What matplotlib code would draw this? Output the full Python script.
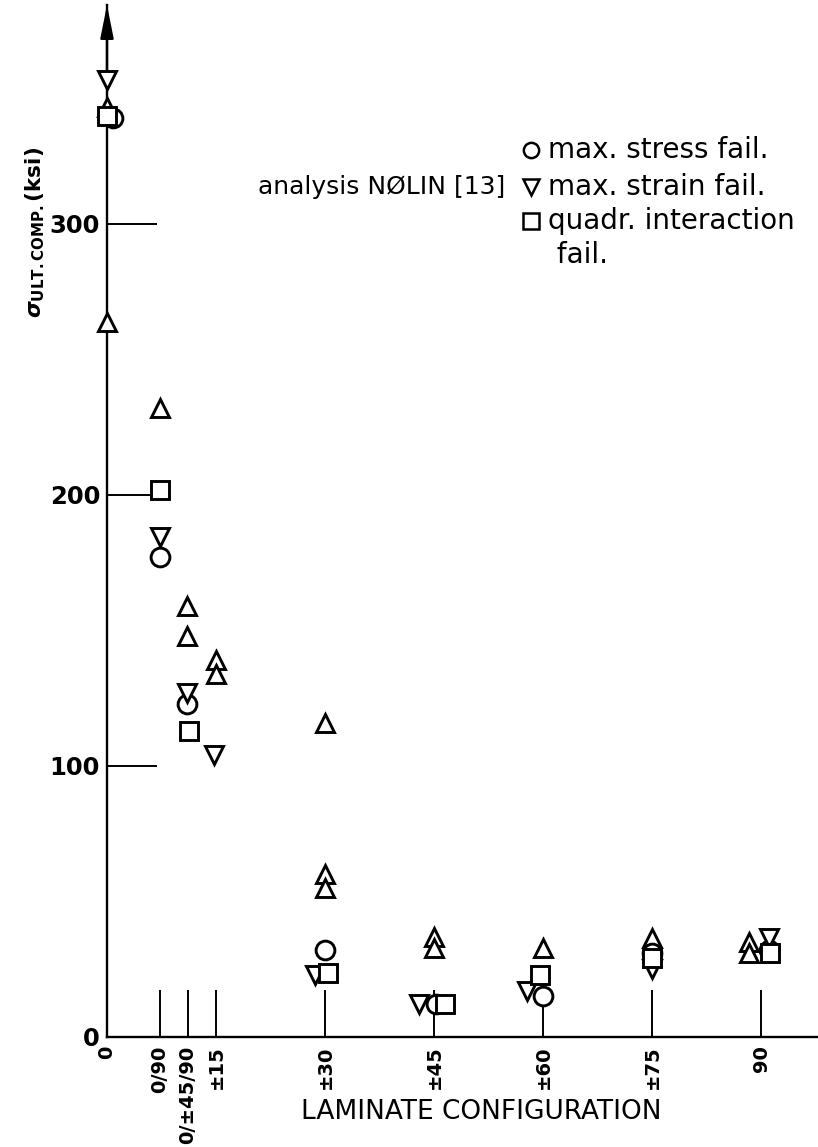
import matplotlib
matplotlib.use('Agg')
import matplotlib.pyplot as plt
from matplotlib.lines import Line2D

plt.rcParams['mathtext.fontset'] = 'dejavusans'

# laminate configurations along the bottom axis (ply angle, degrees)
config_labels = ['0', '0/90', '0/±45/90', '±15', '±30', '±45', '±60', '±75', '90']
config_pos = [0, 7.3, 11.1, 15, 30, 45, 60, 75, 90]

# measured ultimate compressive strength (ksi)
test_x = [0, 0, 7.3, 11.0, 11.0, 15, 15, 30, 30, 30, 45, 45, 60, 75, 88.3, 88.3]
test_y = [343, 264, 232, 159, 148, 139, 134, 116, 60, 55, 37, 33, 33, 36.5, 35, 31]

# NOLIN analysis: max. stress failure
stress_x = [0.8, 7.3, 11.0, 30, 45.2, 60, 75, 91]
stress_y = [339, 177, 123, 32, 12, 15, 31, 32]

# NOLIN analysis: max. strain failure
strain_x = [0, 7.3, 11.0, 14.7, 28.6, 42.9, 57.8, 75, 91]
strain_y = [353, 184.5, 127, 104, 23, 12, 17, 25, 36.5]

# NOLIN analysis: quadratic interaction failure
quad_x = [0, 7.3, 11.3, 30.4, 46.5, 59.6, 75, 91.2]
quad_y = [340, 202, 113, 23.6, 12, 23, 29, 31]

y_ticks = [0, 100, 200, 300]
legend_markers = ['o', 'v', 's']
legend_labels = ['max. stress fail.', 'max. strain fail.', 'quadr. interaction\n fail.']

W, H = 818, 1147
fig = plt.figure(figsize=(W / 100, H / 100), dpi=100)
ax = fig.add_axes([107 / W, 110 / H, 711 / W, 1032 / H])
ax.set_xlim(0, 97.8)
ax.set_ylim(0, 380.8)

for side in ('top', 'right'):
    ax.spines[side].set_visible(False)
for side in ('left', 'bottom'):
    ax.spines[side].set_linewidth(1.7)

# arrow head on the strength axis
ax.annotate('', xy=(0, 1), xytext=(0, 0.93), xycoords='axes fraction',
            arrowprops=dict(arrowstyle='-|>,head_length=1.0,head_width=0.2',
                            mutation_scale=20, lw=1.7, color='black',
                            shrinkA=0, shrinkB=0))

mk = dict(linestyle='none', markerfacecolor='white', markeredgecolor='black',
          markersize=13.5, markeredgewidth=2.1, clip_on=False, zorder=3)
ax.plot(test_x, test_y, marker='^', **mk)
ax.plot(stress_x, stress_y, marker='o', **mk)
ax.plot(strain_x, strain_y, marker='v', **mk)
ax.plot(quad_x, quad_y, marker='s', **mk)

ax.set_xticks(config_pos)
ax.set_xticklabels(config_labels, rotation=90, va='top', fontsize=14, fontweight='bold')
ax.set_yticks(y_ticks)
ax.set_yticklabels([str(v) for v in y_ticks], fontsize=17.5, fontweight='bold')
ax.tick_params(axis='x', direction='in', length=34, width=1.4, pad=6)
ax.tick_params(axis='y', direction='in', length=36, width=1.4, pad=5)

ax.set_xlabel('LAMINATE CONFIGURATION', fontsize=19)
ax.xaxis.set_label_coords((481 - 107) / 711, -(1112 - 1037) / 1032)
ax.xaxis.label.set_va('center')

fig.text(35 / W, 1 - 232 / H,
         r'$\boldsymbol{\sigma}_{\mathbf{ULT.COMP.}}\mathbf{(ksi)}$',
         rotation=90, ha='center', va='center', fontsize=15.5)

# key for the analysis symbols
fig.text(505 / W, 1 - 187 / H, 'analysis NØLIN [13]', ha='right', va='center', fontsize=18)
row_y = [150, 187, 221]
for m, lab, ry in zip(legend_markers, legend_labels, row_y):
    fig.add_artist(Line2D([531 / W], [1 - ry / H], transform=fig.transFigure,
                          marker=m, linestyle='none', markersize=11,
                          markerfacecolor='white', markeredgecolor='black',
                          markeredgewidth=1.8))
    for i, line in enumerate(lab.split('\n')):
        fig.text(548 / W, 1 - (ry + 34 * i) / H, line, ha='left', va='center', fontsize=20)

fig.savefig('out.png', dpi=100)
